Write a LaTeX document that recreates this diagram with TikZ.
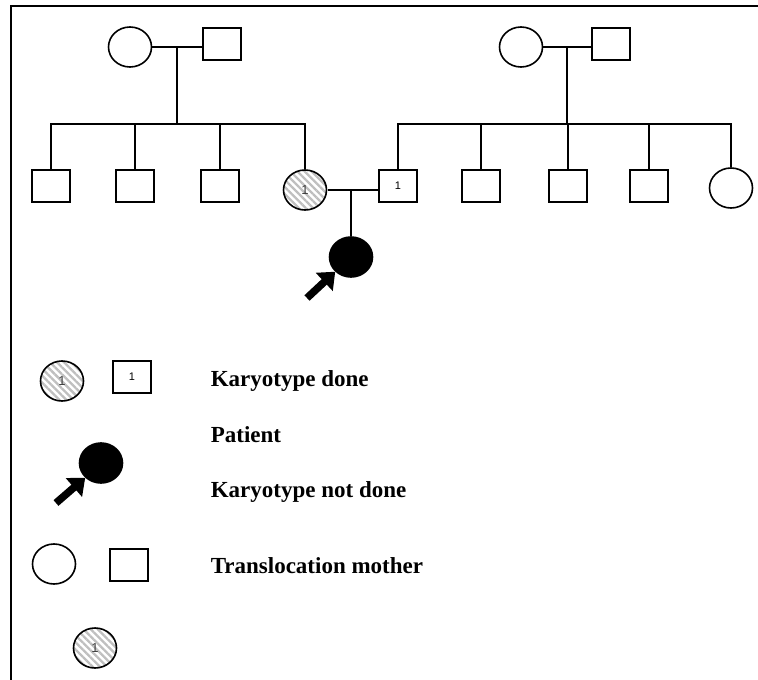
\documentclass[tikz,border=0pt]{standalone}
\usepackage{fontspec}
\setmainfont{Liberation Serif}
\newfontfamily\numfont{Liberation Sans}
\usetikzlibrary{shapes.geometric}
\usetikzlibrary{patterns.meta,arrows.meta}
\usetikzlibrary{positioning}
\tikzset{male/.style={draw,rectangle,minimum width=38pt,minimum height=32pt,inner sep=0pt,font=\numfont\fontsize{11}{11}\selectfont}}
\tikzset{female/.style={draw,ellipse,minimum width=43pt,minimum height=40pt,inner sep=0pt,font=\numfont\fontsize{13}{13}\selectfont,text=black!75}}
\tikzset{carrier/.style={female,pattern={Lines[angle=-45,distance=5pt,line width=2.3pt]},pattern color=gray!50}}
\tikzset{affected/.style={female,fill=black}}

\begin{document}
\begin{tikzpicture}[%
		x = 1pt, y = -1pt, % pixel grid
		line width = 1.6pt, % line style
		legend/.style = {font=\fontsize{23}{27}\selectfont\bfseries, anchor=base west, inner sep=0pt},
		pointer/.style = {line width=7.5pt, -{Triangle[length=15pt,width=24pt]}}
		]
		
		\useasboundingbox (0,0) rectangle (758,680);
		\draw[line width=2.5pt] (11,680) -- (11,6) -- (758,6);
		
		% Grandparents
		\node[female] (gm1) at (130,47) {};
		\node[male] (gf1) at (222,44) {};
		\node[female] (gm2) at (521,47) {};
		\node[male] (gf2) at (611,44) {};
		\coordinate (m1) at (177,47);
		\coordinate (s1) at (177,124);
		\coordinate (m2) at (567,47);
		\coordinate (s2) at (567,124);
		
		% Siblings
		\node[male] (c11) at (51,186) {};
		\node[male] (c12) at (135,186) {};
		\node[male] (c13) at (220,186) {};
		\node[carrier] (mo) at (305,190) {1};
		\node[male] (fa) at (398,186) {1};
		\node[male] (c22) at (481,186) {};
		\node[male] (c23) at (568,186) {};
		\node[male] (c24) at (649,186) {};
		\node[female] (c25) at (731,188) {};
		
		% Patient
		\coordinate (m3) at (351,189);
		\node[affected] (pa) at (351,257) {};
		\coordinate (ar1) at (307,298);
		
		% Marriages
		\draw (gm1.east) -- (gm1.east -| gf1.west);
		\draw (gm2.east) -- (gm2.east -| gf2.west);
		\draw (mo.east) -- (fa.west |- mo.east);
		
		% Descent
		\draw (m1) -- (s1);
		\draw (m2) -- (s2);
		\draw (m3) -- (pa.north);
		\draw (c11.north) |- (s1) -| (mo.north);
		\foreach \c in {c12,c13} \draw (\c.north) -- (\c.north |- s1);
		\draw (fa.north) |- (s2) -| (c25.north);
		\foreach \c in {c22,c23,c24} \draw (\c.north) -- (\c.north |- s2);
		\draw[pointer] (ar1) -- (pa.south west);
		
		% Legend
		\node[carrier] (k1) at (62,381) {1};
		\node[male] (k2) at (132,377) {1};
		\node[affected] (lp) at (101,463) {};
		\coordinate (ar2) at (56,503);
		\draw[pointer] (ar2) -- (lp.south west);
		\node[female] (n1) at (54,564) {};
		\node[male] (n2) at (129,565) {};
		\node[carrier] (t1) at (95,648) {1};
		
		\node[legend] (l1) at (210,386) {Karyotype done};
		\node[legend] (l2) at (210,442) {Patient};
		\node[legend] (l3) at (210,497) {Karyotype not done};
		\node[legend] (l4) at (210,573) {Translocation mother};
		\end{tikzpicture}
\end{document}
